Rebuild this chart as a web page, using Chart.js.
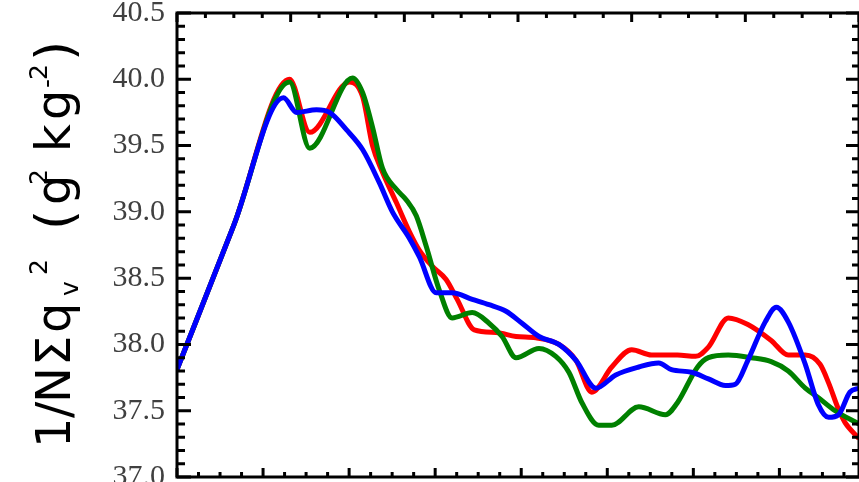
<!DOCTYPE html>
<html>
<head>
<meta charset="utf-8">
<script src="https://cdn.jsdelivr.net/npm/chart.js@4"></script>
<style>
  html, body { margin: 0; padding: 0; background: #fff; overflow: hidden; }
  canvas { display: block; }
</style>
</head>
<body>
<canvas id="myChart" width="859" height="482"></canvas>
<script>
// values (x in top-axis minor tick units, 0..24)
var blueX = [0, 2.00, 3.75, 4.21, 4.91, 5.37, 5.96, 6.53, 7.12, 7.58, 8.18, 8.53, 9.12, 9.68, 10.39, 10.98, 11.58, 12.14, 12.74, 13.44, 14.04, 14.74, 15.44, 16.25, 16.95, 17.40, 18.11, 18.70, 19.30, 19.65, 20.09, 20.70, 21.09, 21.51, 22.11, 22.56, 22.93, 23.28, 23.68, 24];
var blueY = [37.81, 38.90, 39.86, 39.75, 39.77, 39.75, 39.62, 39.47, 39.22, 39.00, 38.80, 38.66, 38.39, 38.39, 38.34, 38.30, 38.25, 38.16, 38.06, 38.00, 37.88, 37.67, 37.77, 37.83, 37.86, 37.81, 37.79, 37.74, 37.69, 37.70, 37.88, 38.17, 38.28, 38.17, 37.85, 37.55, 37.45, 37.47, 37.64, 37.67];

var greenX = [0, 2.00, 3.96, 4.67, 6.18, 6.53, 6.88, 7.23, 7.72, 8.07, 8.42, 8.77, 9.23, 9.68, 10.39, 10.98, 11.44, 11.93, 12.74, 13.33, 13.79, 14.25, 14.84, 15.30, 16.25, 17.19, 17.61, 18.32, 18.70, 19.40, 20.21, 20.91, 21.51, 22.11, 22.56, 23.16, 24];
var greenY = [37.81, 38.90, 39.98, 39.48, 40.01, 39.90, 39.64, 39.33, 39.17, 39.09, 38.97, 38.74, 38.41, 38.20, 38.24, 38.16, 38.06, 37.90, 37.97, 37.91, 37.79, 37.56, 37.39, 37.39, 37.53, 37.47, 37.56, 37.83, 37.90, 37.92, 37.90, 37.87, 37.80, 37.67, 37.60, 37.50, 37.40];

var redX = [0, 2.00, 3.96, 4.67, 6.07, 6.53, 6.88, 7.23, 7.72, 8.18, 8.53, 8.98, 9.47, 9.86, 10.46, 11.23, 11.93, 12.63, 13.44, 14.04, 14.60, 15.30, 16.00, 16.70, 17.61, 18.25, 18.70, 19.40, 20.09, 20.91, 21.51, 22.11, 22.63, 22.93, 23.28, 23.51, 24];
var redY = [37.81, 38.90, 40.00, 39.60, 39.98, 39.87, 39.50, 39.30, 39.07, 38.85, 38.71, 38.59, 38.49, 38.34, 38.11, 38.09, 38.06, 38.05, 38.00, 37.88, 37.64, 37.83, 37.96, 37.92, 37.92, 37.91, 37.98, 38.20, 38.15, 38.03, 37.92, 37.92, 37.85, 37.71, 37.51, 37.41, 37.29];

// axis ranges
var yMin = 37.0, yMax = 40.5, yStep = 0.5;
var topMax = 24;      // top axis: 24 minor ticks, major every 4
var bottomMax = 31.7; // bottom axis: finer ticks, major every 4

function pts(xs, ys) {
    var out = [];
    for (var i = 0; i < xs.length; i++) {
        out.push({x: xs[i], y: ys[i]});
    }
    return out;
}

// y title pieces: text, offset along, offset across, font size
var titleParts = [
    ['1', 0, 0, 48], ['/', 30, 0, 48], ['N', 45, 0, 48], ['\u03A3', 82, 0, 48], ['q', 115, 0, 48],
    ['v', 152, 8, 25], ['2', 173, -23, 25],
    ['(', 218, 2, 52], ['g', 243, 0, 48], ['2', 263, -23, 25],
    ['k', 296, 0, 48], ['g', 328, 0, 48], ['-', 360, -15, 25], ['2', 368, -23, 25],
    [')', 387, 2, 52]
];

var frame = {
    id: 'frame',
    afterDraw: function(chart) {
        var c = chart.ctx;
        var a = chart.chartArea;
        var xs = chart.scales.x, xb = chart.scales.xb, ys = chart.scales.y;
        c.save();
        c.strokeStyle = '#000';
        c.lineWidth = 3;
        c.strokeRect(a.left, a.top, a.right - a.left, a.bottom - a.top);

        c.beginPath();
        // left and right ticks every 0.1
        for (var i = Math.round(yMin * 10); i <= Math.round(yMax * 10); i++) {
            var py = ys.getPixelForValue(i / 10);
            var major = (i % 5 === 0);
            c.moveTo(a.left, py); c.lineTo(a.left + (major ? 14 : 8), py);
            c.moveTo(a.right, py); c.lineTo(a.right - (major ? 13 : 7), py);
        }
        // top ticks
        for (var j = 0; j <= topMax; j++) {
            var px = xs.getPixelForValue(j);
            c.moveTo(px, a.top); c.lineTo(px, a.top + (j % 4 === 0 ? 9 : 5));
        }
        // bottom ticks
        for (var k = 0; k <= Math.floor(bottomMax); k++) {
            var bx = xb.getPixelForValue(k);
            c.moveTo(bx, a.bottom); c.lineTo(bx, a.bottom - (k % 4 === 0 ? 9 : 5));
        }
        c.stroke();

        // rotated y title
        c.translate(70, 448);
        c.rotate(-Math.PI / 2);
        c.fillStyle = '#000';
        c.textAlign = 'left';
        c.textBaseline = 'alphabetic';
        titleParts.forEach(function(p) {
            c.font = p[3] + 'px "DejaVu Sans"';
            c.fillText(p[0], p[1], p[2]);
        });
        c.restore();
    }
};

function line(label, xs, ys, color) {
    return {
        label: label,
        data: pts(xs, ys),
        borderColor: color,
        backgroundColor: color,
        borderWidth: 5,
        pointRadius: 0,
        fill: false,
        cubicInterpolationMode: 'monotone'
    };
}

var ctx = document.getElementById('myChart').getContext('2d');
var myChart = new Chart(ctx, {
    type: 'line',
    data: {
        datasets: [
            line('blue', blueX, blueY, '#0000ff'),
            line('green', greenX, greenY, '#008000'),
            line('red', redX, redY, '#ff0000')
        ]
    },
    options: {
        responsive: false,
        animation: false,
        devicePixelRatio: 1,
        layout: { padding: { top: 13, bottom: 5, left: 0, right: -2 } },
        plugins: { legend: { display: false }, tooltip: { enabled: false } },
        scales: {
            x: { type: 'linear', min: 0, max: topMax, display: false },
            xb: { type: 'linear', axis: 'x', position: 'bottom', min: 0, max: bottomMax, display: false },
            y: {
                min: yMin,
                max: yMax,
                afterFit: function(s) {
                    s.width = 177;
                    s.paddingTop = 0;
                    s.paddingBottom = 0;
                },
                grid: { display: false, drawTicks: false },
                border: { display: false },
                ticks: {
                    stepSize: yStep,
                    autoSkip: false,
                    padding: 12,
                    color: '#404040',
                    font: { family: '"Liberation Serif"', size: 30 },
                    callback: function(v) { return v.toFixed(1); }
                }
            }
        }
    },
    plugins: [frame]
});
</script>
</body>
</html>
